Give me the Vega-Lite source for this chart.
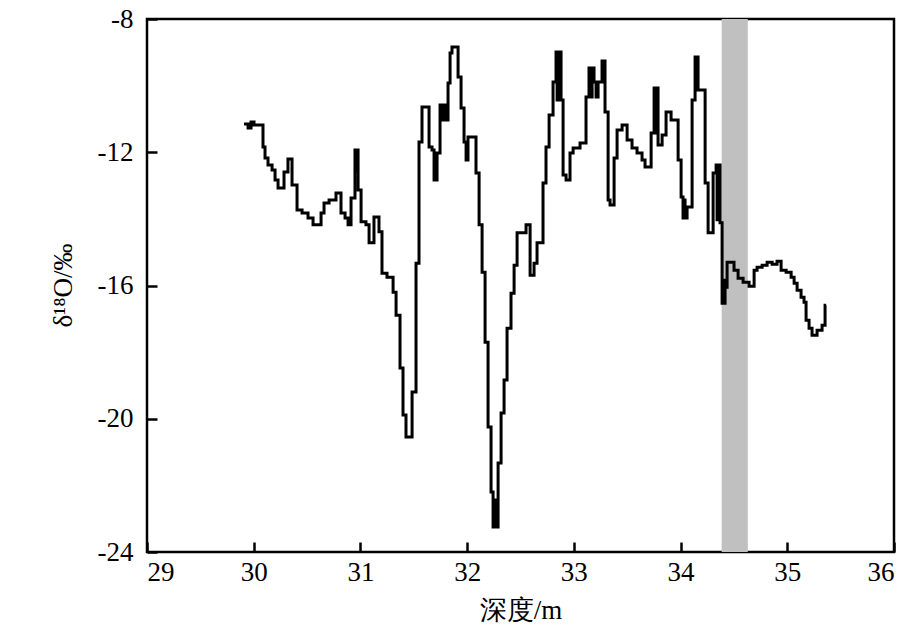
{
  "$schema": "https://vega.github.io/schema/vega-lite/v6.json",
  "width": 747,
  "height": 533,
  "autosize": {"type": "none"},
  "padding": {"left": 147, "top": 19, "right": 29, "bottom": 92},
  "background": "white",
  "config": {
    "font": "Liberation Serif",
    "view": {"stroke": "black", "strokeWidth": 2.5},
    "axis": {
      "domain": false, "offset": -10,
      "tickColor": "black", "tickWidth": 2.5, "tickSize": 10,
      "labelFont": "Liberation Serif", "labelFontSize": 27, "labelColor": "black",
      "labelExpr": "'' + datum.value",
      "titleFont": "Liberation Serif", "titleFontSize": 27, "titleFontWeight": "normal", "titleColor": "black",
      "grid": false
    }
  },
  "datasets": {
    "band": [{"d0": 34.385, "d1": 34.63}],
    "series": [
      {"d": 29.909, "v": -11.15}, {"d": 29.947, "v": -11.27}, {"d": 29.975, "v": -11.09}, {"d": 30.003, "v": -11.18},
      {"d": 30.087, "v": -11.84}, {"d": 30.106, "v": -12.17}, {"d": 30.134, "v": -12.38}, {"d": 30.172, "v": -12.53},
      {"d": 30.200, "v": -12.83}, {"d": 30.228, "v": -13.07}, {"d": 30.284, "v": -12.59}, {"d": 30.321, "v": -12.20},
      {"d": 30.359, "v": -12.98}, {"d": 30.406, "v": -13.73}, {"d": 30.453, "v": -13.82}, {"d": 30.509, "v": -13.97},
      {"d": 30.556, "v": -14.18}, {"d": 30.631, "v": -13.82}, {"d": 30.659, "v": -13.52}, {"d": 30.706, "v": -13.43},
      {"d": 30.771, "v": -13.22}, {"d": 30.818, "v": -13.82}, {"d": 30.856, "v": -13.97}, {"d": 30.884, "v": -14.18},
      {"d": 30.912, "v": -13.37}, {"d": 30.949, "v": -11.93}, {"d": 30.959, "v": -12.53}, {"d": 30.968, "v": -11.93},
      {"d": 30.978, "v": -13.13}, {"d": 31.006, "v": -14.09}, {"d": 31.052, "v": -14.18}, {"d": 31.081, "v": -14.72},
      {"d": 31.127, "v": -13.94}, {"d": 31.174, "v": -14.39}, {"d": 31.202, "v": -15.63}, {"d": 31.249, "v": -15.75},
      {"d": 31.306, "v": -16.20}, {"d": 31.334, "v": -16.89}, {"d": 31.371, "v": -18.48}, {"d": 31.399, "v": -19.89},
      {"d": 31.427, "v": -20.55}, {"d": 31.484, "v": -19.20}, {"d": 31.521, "v": -15.33}, {"d": 31.549, "v": -11.69},
      {"d": 31.577, "v": -10.64}, {"d": 31.643, "v": -11.84}, {"d": 31.671, "v": -11.93}, {"d": 31.690, "v": -12.83},
      {"d": 31.699, "v": -12.08}, {"d": 31.709, "v": -12.83}, {"d": 31.718, "v": -12.02}, {"d": 31.746, "v": -10.58},
      {"d": 31.765, "v": -11.03}, {"d": 31.783, "v": -10.58}, {"d": 31.802, "v": -11.03}, {"d": 31.821, "v": -9.92},
      {"d": 31.840, "v": -9.02}, {"d": 31.858, "v": -8.84}, {"d": 31.915, "v": -9.74}, {"d": 31.943, "v": -10.67},
      {"d": 31.971, "v": -11.69}, {"d": 31.990, "v": -12.23}, {"d": 32.008, "v": -11.54}, {"d": 32.083, "v": -12.62},
      {"d": 32.112, "v": -14.18}, {"d": 32.140, "v": -15.60}, {"d": 32.168, "v": -17.70}, {"d": 32.196, "v": -20.25},
      {"d": 32.224, "v": -22.20}, {"d": 32.243, "v": -23.25}, {"d": 32.261, "v": -22.44}, {"d": 32.271, "v": -23.25},
      {"d": 32.290, "v": -21.33}, {"d": 32.318, "v": -19.83}, {"d": 32.346, "v": -18.84}, {"d": 32.374, "v": -17.28},
      {"d": 32.411, "v": -16.23}, {"d": 32.440, "v": -15.39}, {"d": 32.468, "v": -14.42}, {"d": 32.552, "v": -14.18},
      {"d": 32.590, "v": -15.69}, {"d": 32.627, "v": -15.33}, {"d": 32.655, "v": -14.72}, {"d": 32.711, "v": -12.92},
      {"d": 32.739, "v": -11.84}, {"d": 32.768, "v": -10.88}, {"d": 32.805, "v": -9.89}, {"d": 32.833, "v": -8.99},
      {"d": 32.843, "v": -10.43}, {"d": 32.852, "v": -8.99}, {"d": 32.880, "v": -10.43}, {"d": 32.899, "v": -12.68},
      {"d": 32.927, "v": -12.83}, {"d": 32.964, "v": -12.02}, {"d": 32.993, "v": -11.87}, {"d": 33.058, "v": -11.72},
      {"d": 33.114, "v": -10.34}, {"d": 33.142, "v": -9.47}, {"d": 33.161, "v": -10.34}, {"d": 33.171, "v": -9.47},
      {"d": 33.189, "v": -9.89}, {"d": 33.208, "v": -10.34}, {"d": 33.227, "v": -9.89}, {"d": 33.264, "v": -9.26},
      {"d": 33.292, "v": -10.79}, {"d": 33.321, "v": -13.43}, {"d": 33.339, "v": -13.58}, {"d": 33.377, "v": -12.17},
      {"d": 33.405, "v": -11.33}, {"d": 33.452, "v": -11.18}, {"d": 33.499, "v": -11.63}, {"d": 33.545, "v": -11.87},
      {"d": 33.592, "v": -12.02}, {"d": 33.639, "v": -12.23}, {"d": 33.667, "v": -12.44}, {"d": 33.724, "v": -11.42},
      {"d": 33.752, "v": -10.07}, {"d": 33.761, "v": -11.42}, {"d": 33.770, "v": -10.07}, {"d": 33.789, "v": -11.78},
      {"d": 33.827, "v": -11.48}, {"d": 33.864, "v": -10.79}, {"d": 33.911, "v": -11.03}, {"d": 33.977, "v": -12.23},
      {"d": 34.005, "v": -13.34}, {"d": 34.023, "v": -13.97}, {"d": 34.033, "v": -13.43}, {"d": 34.042, "v": -13.97},
      {"d": 34.061, "v": -13.64}, {"d": 34.108, "v": -10.43}, {"d": 34.136, "v": -9.14}, {"d": 34.145, "v": -10.13},
      {"d": 34.155, "v": -9.14}, {"d": 34.164, "v": -10.13}, {"d": 34.230, "v": -12.92}, {"d": 34.258, "v": -14.42},
      {"d": 34.305, "v": -12.62}, {"d": 34.333, "v": -12.38}, {"d": 34.342, "v": -14.03}, {"d": 34.351, "v": -12.38},
      {"d": 34.370, "v": -14.12}, {"d": 34.389, "v": -16.53}, {"d": 34.398, "v": -15.84}, {"d": 34.408, "v": -16.53},
      {"d": 34.417, "v": -16.05}, {"d": 34.436, "v": -15.30}, {"d": 34.501, "v": -15.54}, {"d": 34.539, "v": -15.78},
      {"d": 34.586, "v": -15.90}, {"d": 34.642, "v": -16.02}, {"d": 34.689, "v": -15.54}, {"d": 34.717, "v": -15.45},
      {"d": 34.764, "v": -15.39}, {"d": 34.811, "v": -15.30}, {"d": 34.858, "v": -15.36}, {"d": 34.904, "v": -15.27},
      {"d": 34.942, "v": -15.54}, {"d": 34.989, "v": -15.60}, {"d": 35.036, "v": -15.75}, {"d": 35.064, "v": -15.93},
      {"d": 35.092, "v": -16.14}, {"d": 35.129, "v": -16.35}, {"d": 35.157, "v": -16.50}, {"d": 35.176, "v": -17.04},
      {"d": 35.204, "v": -17.28}, {"d": 35.232, "v": -17.49}, {"d": 35.279, "v": -17.34}, {"d": 35.326, "v": -17.19},
      {"d": 35.354, "v": -16.59}, {"d": 35.364, "v": -16.59}
    ]
  },
  "layer": [
    {
      "data": {"name": "band"},
      "mark": {"type": "rect", "color": "#c0c0c0"},
      "encoding": {
        "x": {"field": "d0", "type": "quantitative", "scale": {"domain": [29, 36], "nice": false, "zero": false},
          "axis": {"values": [29, 30, 31, 32, 33, 34, 35, 36], "labelPadding": 7, "title": "深度/m", "titleY": 68, "titleBaseline": "middle"}},
        "x2": {"field": "d1"}
      }
    },
    {
      "data": {"name": "series"},
      "mark": {"type": "line", "interpolate": "step-after", "color": "black", "strokeWidth": 3},
      "encoding": {
        "x": {"field": "d", "type": "quantitative"},
        "y": {"field": "v", "type": "quantitative", "scale": {"domain": [-24, -8], "nice": false, "zero": false},
          "axis": {"values": [-24, -20, -16, -12, -8], "labelPadding": 14, "title": "δ¹⁸O/‰", "titleX": -94, "titleY": 266, "titleBaseline": "middle", "titleAngle": -90}}
      }
    }
  ]
}
